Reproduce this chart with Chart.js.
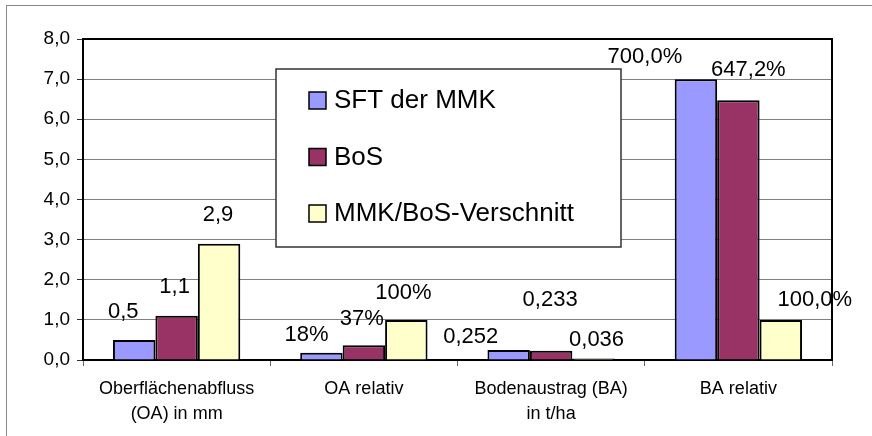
<!DOCTYPE html>
<html>
<head>
<meta charset="utf-8">
<script src="https://cdn.jsdelivr.net/npm/chart.js@4"></script>
<style>
    body { margin: 0; background: #fff; }
    canvas { display: block; }
</style>
</head>
<body>
<canvas id="chart" width="872" height="436"></canvas>
<script>
// Chart data
const categories = [
    ['Oberflächenabfluss', '(OA) in mm'],
    ['OA relativ'],
    ['Bodenaustrag (BA)', 'in t/ha'],
    ['BA relativ']
];
const seriesNames = ['SFT der MMK', 'BoS', 'MMK/BoS-Verschnitt'];
const sftValues = [0.5, 0.18, 0.252, 7.0];
const bosValues = [1.1, 0.37, 0.233, 6.472];
const verschnittValues = [2.9, 1.0, 0.036, 1.0];
const yTicks = [0, 1, 2, 3, 4, 5, 6, 7, 8];

const seriesColors = ['#9999FF', '#993366', '#FFFFCC'];
const fontFamily = "'Liberation Sans', Arial, sans-serif";

// how each category's data labels are written
function formatLabel(value, catIndex) {
    let text;
    if (catIndex === 0) text = value.toFixed(1);
    else if (catIndex === 1) text = (value * 100).toFixed(0) + '%';
    else if (catIndex === 2) text = value.toFixed(3);
    else text = (value * 100).toFixed(1) + '%';
    return text.replace('.', ',');
}

// label shift [dx, dy] from the top centre of each bar (series x category)
const labelShift = [
    [[-11, 28], [-15, 18], [-38, 13], [-51, 22]],
    [[-2, 29], [-2, 26], [-1, 51], [10, 30]],
    [[-1, 29], [-3, 27], [3, 19], [34, 20]]
];

const frameAndLabels = {
    id: 'frameAndLabels',
    beforeDraw(chart) {
        const ctx = chart.ctx;
        ctx.save();
        ctx.strokeStyle = '#8a8a8a';
        ctx.lineWidth = 1;
        ctx.strokeRect(6.5, 5.5, 1000, 1000);
        ctx.restore();
    },
    afterDatasetsDraw(chart) {
        const ctx = chart.ctx;
        const area = chart.chartArea;
        ctx.save();

        // plot frame (top and right sides)
        ctx.strokeStyle = '#000';
        ctx.lineWidth = 2;
        ctx.beginPath();
        ctx.moveTo(area.left, area.top);
        ctx.lineTo(area.right, area.top);
        ctx.lineTo(area.right, area.bottom);
        ctx.stroke();

        // data labels
        ctx.fillStyle = '#000';
        ctx.font = '22px ' + fontFamily;
        ctx.textAlign = 'center';
        ctx.textBaseline = 'middle';
        chart.data.datasets.forEach((ds, si) => {
            const meta = chart.getDatasetMeta(si);
            meta.data.forEach((bar, ci) => {
                const shift = labelShift[si][ci];
                ctx.fillText(formatLabel(ds.data[ci], ci), bar.x + shift[0], bar.y - shift[1]);
            });
        });

        // legend box
        const box = { left: 276, top: 69, right: 621, bottom: 247 };
        ctx.fillStyle = '#fff';
        ctx.fillRect(box.left, box.top, box.right - box.left, box.bottom - box.top);
        ctx.strokeStyle = '#333';
        ctx.lineWidth = 1.5;
        ctx.strokeRect(box.left, box.top, box.right - box.left, box.bottom - box.top);

        ctx.font = '26px ' + fontFamily;
        ctx.textAlign = 'left';
        chart.data.datasets.forEach((ds, i) => {
            const y = 100 + i * 56.5;
            ctx.fillStyle = ds.backgroundColor;
            ctx.fillRect(309, y - 8, 17, 17);
            ctx.strokeStyle = '#000';
            ctx.lineWidth = 1.5;
            ctx.strokeRect(309, y - 8, 17, 17);
            ctx.fillStyle = '#000';
            ctx.fillText(ds.label, 334, y + 1);
        });

        ctx.restore();
    }
};

const allValues = [sftValues, bosValues, verschnittValues];

new Chart(document.getElementById('chart').getContext('2d'), {
    type: 'bar',
    data: {
        labels: categories,
        datasets: seriesNames.map((name, i) => ({
            label: name,
            data: allValues[i],
            backgroundColor: seriesColors[i],
            borderColor: '#000',
            borderWidth: 2,
            categoryPercentage: 0.68,
            barPercentage: 1.0
        }))
    },
    options: {
        responsive: false,
        animation: false,
        layout: {
            padding: { left: 0, top: 39, right: 40, bottom: 0 }
        },
        plugins: {
            legend: { display: false },
            tooltip: { enabled: false }
        },
        scales: {
            x: {
                afterFit: (scale) => { scale.height = 76; },
                border: { color: '#000', width: 2 },
                grid: {
                    drawOnChartArea: false,
                    drawTicks: true,
                    tickLength: 6,
                    tickColor: '#666'
                },
                ticks: {
                    color: '#000',
                    padding: 10,
                    maxRotation: 0,
                    font: { family: fontFamily, size: 18, lineHeight: 1.4 }
                }
            },
            y: {
                min: 0,
                max: 8,
                afterFit: (scale) => { scale.width = 83; },
                afterBuildTicks: (scale) => { scale.ticks = yTicks.map(v => ({ value: v })); },
                border: { color: '#000', width: 2 },
                grid: {
                    color: '#808080',
                    lineWidth: 1,
                    tickLength: 6,
                    tickColor: '#333'
                },
                ticks: {
                    color: '#000',
                    padding: 7,
                    font: { family: fontFamily, size: 19 },
                    callback: (value) => value.toFixed(1).replace('.', ',')
                }
            }
        }
    },
    plugins: [frameAndLabels]
});
</script>
</body>
</html>
